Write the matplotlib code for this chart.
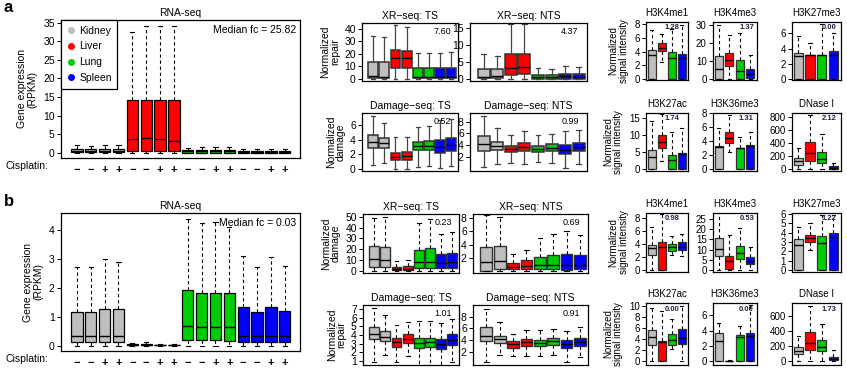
import matplotlib
matplotlib.use('Agg')
import matplotlib.pyplot as plt
from matplotlib.lines import Line2D
from matplotlib.transforms import blended_transform_factory

plt.rcParams['font.family'] = ['Liberation Sans', 'DejaVu Sans']

# ---------------- data ----------------
tissues = ['Kidney', 'Liver', 'Lung', 'Spleen']
tissue_colors = ['#BEBEBE', '#FF0000', '#00CD00', '#0000FF']
cisplatin = ['\u2212', '\u2212', '+', '+'] * 4

# box stats: [whisker low, q1, median, q3, whisker high]
# RNA-seq (16 boxes: kidney x4, liver x4, lung x4, spleen x4)
a_rna = [[0, 0.1, 0.4, 0.9, 2.0], [0, 0.1, 0.4, 0.9, 1.8], [0, 0.1, 0.4, 0.95, 2.1], [0, 0.1, 0.4, 0.95, 2.1],
         [0, 0.5, 3.8, 14.3, 32.5], [0, 0.5, 4.1, 14.3, 34.1], [0, 0.4, 3.6, 14.1, 34.1], [0, 0.4, 3.2, 14.3, 34.2],
         [0, 0.05, 0.35, 0.8, 1.4], [0, 0.05, 0.4, 0.85, 1.6], [0, 0.05, 0.4, 0.85, 1.5], [0, 0.05, 0.4, 0.85, 1.5],
         [0, 0.05, 0.25, 0.6, 1.1], [0, 0.05, 0.25, 0.55, 0.9], [0, 0.05, 0.25, 0.55, 0.9], [0, 0.05, 0.25, 0.55, 0.9]]
a_fc = 'Median fc = 25.82'

b_rna = [[0, 0.12, 0.35, 1.17, 2.72], [0, 0.12, 0.35, 1.17, 2.70], [0, 0.12, 0.35, 1.27, 3.0], [0, 0.12, 0.35, 1.25, 2.9],
         [0, 0.01, 0.03, 0.05, 0.08], [0, 0.01, 0.04, 0.07, 0.12], [0, 0.01, 0.02, 0.04, 0.05], [0, 0.01, 0.02, 0.04, 0.05],
         [0, 0.2, 0.67, 1.93, 4.38], [0, 0.2, 0.63, 1.83, 4.22], [0, 0.2, 0.65, 1.83, 4.25], [0, 0.18, 0.65, 1.81, 4.1],
         [0, 0.12, 0.35, 1.33, 3.1], [0, 0.12, 0.35, 1.17, 2.7], [0, 0.12, 0.35, 1.32, 3.05], [0, 0.12, 0.35, 1.18, 2.75]]
b_fc = 'Median fc = 0.03'

# XR-seq / Damage-seq (8 boxes: kidney x2, liver x2, lung x2, spleen x2)
a_xr_ts = [[0, 0.5, 2.5, 13.5, 34], [0, 0.5, 1.5, 13.5, 33], [0, 9, 16.5, 23, 43], [0, 9, 16.5, 22.5, 41.5],
           [0, 0.8, 1.2, 8.5, 20.5], [0, 0.8, 1.2, 8.5, 21], [0, 0.8, 1.2, 8.5, 21], [0, 0.8, 1.2, 8.5, 21.5]]
a_xr_nts = [[0, 0.2, 0.7, 3.0, 7.3], [0, 0.3, 1.0, 3.0, 6.8], [0, 1.2, 3.2, 7.5, 16.2], [0, 1.5, 3.4, 7.5, 16.2],
            [0, 0.1, 0.6, 1.2, 3.2], [0, 0.1, 0.6, 1.2, 3.0], [0, 0.1, 0.8, 1.6, 3.8], [0, 0.1, 0.7, 1.4, 3.4]]
a_dm_ts = [[0.5, 2.9, 3.7, 4.6, 7.2], [0.9, 2.9, 3.5, 4.2, 6.2], [0, 1.2, 1.7, 2.2, 4.4], [0, 1.3, 1.8, 2.3, 4.4],
           [0.3, 2.6, 3.1, 3.7, 5.7], [0.4, 2.6, 3.1, 3.8, 5.8], [0.2, 2.2, 3.0, 4.0, 6.6], [0.4, 2.5, 3.3, 4.2, 6.8]]
a_dm_nts = [[0.3, 3.0, 4.2, 5.6, 8.9], [0.8, 3.1, 3.9, 4.6, 7.0], [1.0, 2.8, 3.4, 3.9, 5.8], [0.8, 2.9, 3.6, 4.4, 6.4],
            [1.1, 2.8, 3.4, 3.9, 5.8], [1.0, 2.9, 3.5, 4.2, 5.9], [0, 2.4, 3.2, 4.0, 6.4], [0.7, 3.0, 3.7, 4.4, 6.6]]
b_xr_ts = [[0, 3.5, 11, 22.5, 49], [0, 3.5, 10, 22, 49.5], [0, 0.5, 1.5, 3.5, 9], [0, 0.5, 1.5, 4.5, 10],
           [0, 2.5, 8, 19.5, 44.5], [0, 2.5, 8, 21, 48], [0, 2.5, 7.5, 15.5, 34], [0, 3, 8, 16.5, 36]]
b_xr_nts = [[0, 0.1, 1.4, 3.7, 8.4], [0, 0.3, 1.6, 3.8, 8.2], [0, 0.3, 0.7, 1.3, 2.6], [0, 0.3, 0.8, 1.7, 3.2],
            [0, 0.3, 0.9, 2.2, 5.0], [0, 0.3, 1.0, 2.5, 5.6], [0, 0.2, 0.9, 2.6, 6.0], [0, 0.3, 0.9, 2.5, 5.4]]
b_dm_ts = [[0.8, 3.5, 4.1, 4.9, 7.2], [1.7, 3.3, 3.8, 4.5, 6.3], [0.9, 2.6, 3.2, 3.6, 5.2], [1.5, 3.1, 3.5, 4.1, 5.5],
           [0.5, 2.5, 3.1, 3.6, 5.6], [0.5, 2.6, 3.2, 3.7, 5.6], [0.4, 2.4, 3.0, 3.5, 5.4], [0.8, 2.8, 3.4, 4.1, 5.9]]
b_dm_nts = [[0.3, 3.8, 4.7, 6.2, 9.3], [1.5, 3.5, 4.1, 4.7, 7.0], [1.2, 2.7, 3.3, 3.8, 5.1], [1.2, 3.0, 3.6, 4.2, 5.7],
            [1.3, 3.0, 3.5, 4.0, 5.7], [1.4, 3.2, 3.8, 4.3, 5.8], [0.3, 2.6, 3.3, 4.0, 5.6], [1.0, 3.0, 3.6, 4.3, 6.2]]
a_mid_values = ['7.60', '4.37', '0.52', '0.99']
b_mid_values = ['0.23', '0.69', '1.01', '0.91']

# Histone marks / DNase I (4 boxes: kidney, liver, lung, spleen)
a_h3k4me1 = [[0, 0, 3.5, 4.2, 7.1], [2.5, 4.1, 4.5, 5.2, 6.5], [0, 0, 3.1, 3.9, 7.3], [0, 0, 3.0, 3.6, 7.9]]
a_h3k4me3 = [[0, 0, 5.5, 12.8, 30], [0, 7.5, 10.5, 14.5, 24.5], [0, 0, 4.5, 10.5, 25.5], [0, 0.5, 3, 5.5, 13.5]]
a_h3k27me3 = [[0, 0, 3.0, 3.4, 5.6], [0, 0, 3.1, 3.2, 4.8], [0, 0, 3.2, 3.2, 7.3], [0, 0, 3.1, 3.7, 6.0]]
a_h3k27ac = [[0, 0, 3.5, 5.8, 14.3], [2.3, 6.3, 8.0, 10.0, 16.2], [0, 0, 2.8, 4.3, 10.8], [0, 0, 4.6, 4.8, 12.0]]
a_h3k36me3 = [[0, 0, 3.2, 3.3, 5.9], [2.5, 3.7, 4.5, 5.4, 7.7], [0, 0, 3.0, 3.1, 4.6], [0, 0, 3.3, 3.4, 5.4]]
a_dnase = [[0, 70, 120, 170, 330], [0, 130, 250, 420, 830], [0, 90, 160, 270, 540], [0, 0, 20, 50, 100]]
a_hist_values = ['1.28', '1.37', '0.00', '1.74', '1.31', '2.12']

b_h3k4me1 = [[0, 2.3, 3.4, 3.8, 6.6], [0, 0, 3.6, 4.3, 8.7], [2.3, 2.9, 3.5, 4.0, 5.3], [2.1, 3.1, 3.6, 4.3, 5.6]]
b_h3k4me3 = [[0, 7, 10.5, 15.5, 28], [0, 0.5, 4.5, 7, 17], [0, 5.5, 8.5, 12, 20.5], [0, 3, 4.5, 6.5, 11.5]]
b_h3k27me3 = [[0, 0, 2.7, 3.3, 4.6], [2.1, 3.0, 3.4, 3.8, 5.0], [0, 0, 2.9, 3.6, 5.9], [0, 0, 3.5, 4.0, 5.9]]
b_h3k27ac = [[0, 3.0, 4.4, 5.6, 9.6], [0, 0, 3.5, 3.6, 9.0], [2.2, 3.0, 3.8, 4.9, 7.7], [0, 3.1, 4.2, 5.8, 10.0]]
b_h3k36me3 = [[0, 0, 2.7, 3.7, 5.0], [0, 0, 0, 0.05, 0.1], [0, 0, 3.1, 3.4, 4.6], [0, 0, 3.3, 3.7, 7.3]]
b_dnase = [[0, 100, 140, 190, 340], [0, 150, 240, 380, 730], [0, 130, 190, 280, 490], [0, 10, 30, 60, 150]]
b_hist_values = ['0.98', '0.53', '1.22', '0.00', '0.00', '1.73']

hist_titles = ['H3K4me1', 'H3K4me3', 'H3K27me3', 'H3K27ac', 'H3K36me3', 'DNase I']
mid_titles = ['XR\u2212seq: TS', 'XR\u2212seq: NTS', 'Damage\u2212seq: TS', 'Damage\u2212seq: NTS']

# ---------------- figure ----------------
W, H = 847, 369
fig = plt.figure(figsize=(W / 100, H / 100), dpi=100)


def add_ax(l, t, r, b):
    return fig.add_axes([l / W, 1 - b / H, (r - l) / W, (b - t) / H])


def style_ax(ax, yticks, ylim, xlim, labelsize=7.5):
    ax.set_ylim(*ylim)
    ax.set_xlim(*xlim)
    ax.set_yticks(yticks)
    ax.tick_params(axis='y', direction='out', length=3, width=0.7, labelsize=labelsize, pad=1.5)
    for s in ax.spines.values():
        s.set_linewidth(0.9)
        s.set_color('black')
    ax.set_facecolor('white')


def draw_boxes(ax, stats, colors, width, capw, edge, wcol, wls, wlw=0.8, elw=0.9):
    st = [dict(whislo=s[0], q1=s[1], med=s[2], q3=s[3], whishi=s[4], fliers=[]) for s in stats]
    pos = list(range(1, len(stats) + 1))
    bp = ax.bxp(st, positions=pos, widths=width, capwidths=capw, patch_artist=True,
                showfliers=False, manage_ticks=False,
                boxprops=dict(edgecolor=edge, linewidth=elw),
                whiskerprops=dict(color=wcol, linestyle=wls, linewidth=wlw),
                capprops=dict(color=wcol, linewidth=wlw),
                medianprops=dict(color='black', linewidth=1.0))
    for p, c in zip(bp['boxes'], colors):
        p.set_facecolor(c)
    return bp


dash = (0, (3, 2.5))

# ---------- RNA-seq panels ----------
rna_colors = [c for c in tissue_colors for _ in range(4)]
for (t, b), data, fc, yt, yl, lab in [((20, 158), a_rna, a_fc, range(0, 36, 5), (-1.4, 35.7), 'a'),
                                      ((213, 351), b_rna, b_fc, range(0, 5), (-0.18, 4.57), 'b')]:
    ax = add_ax(61, t, 300, b)
    draw_boxes(ax, data, rna_colors, 0.82, 0.3, 'black', 'black', dash)
    style_ax(ax, list(yt), yl, (-0.15, 17.1))
    ax.set_xticks(range(1, 17), cisplatin)
    ax.tick_params(axis='x', length=0, pad=5, labelsize=8)
    for tl in ax.get_xticklabels():
        tl.set_fontweight('bold')
    ax.set_title('RNA-seq', fontsize=7.5, pad=3)
    ax.set_ylabel('Gene expression\n(RPKM)', fontsize=7.5, labelpad=4, linespacing=1.1)
    ax.text(0.985, 0.93, fc, transform=ax.transAxes, ha='right', va='center', fontsize=7.5)
    fig.text(5 / W, 1 - (b + 8) / H, 'Cisplatin:', fontsize=7.5, va='center', ha='left')
    fig.text(4 / W, 1 - (t - 12) / H, lab, fontsize=12, fontweight='bold', va='center', ha='left')
    if lab == 'a':
        handles = [Line2D([], [], marker='o', linestyle='none', markersize=4, color=c) for c in tissue_colors]
        leg = ax.legend(handles, tissues, loc='upper left', bbox_to_anchor=(0, 1), borderaxespad=0,
                        fontsize=7.5, frameon=True, fancybox=False, framealpha=1, edgecolor='black',
                        handlelength=0.8, handletextpad=0.4, labelspacing=0.55, borderpad=0.55)
        leg.get_frame().set_linewidth(0.9)

# ---------- XR-seq / Damage-seq panels ----------
mid_colors = [c for c in tissue_colors for _ in range(2)]
mid_specs = [
    # (box px), data, yticks, ylim, ylabel, value, panel row
    ((362, 23, 458, 81), a_xr_ts, [0, 10, 20, 30, 40], (-1.7, 44.5), 'Normalized\nrepair', a_mid_values[0], 'a'),
    ((470, 23, 587, 81), a_xr_nts, [0, 5, 10, 15], (-0.6, 16.5), None, a_mid_values[1], 'a'),
    ((362, 113, 458, 171), a_dm_ts, [0, 2, 4, 6], (-0.25, 7.6), 'Normalized\ndamage', a_mid_values[2], 'a'),
    ((470, 113, 587, 171), a_dm_nts, [2, 4, 6, 8], (-0.45, 9.5), None, a_mid_values[3], 'a'),
    ((363, 214, 459, 273), b_xr_ts, [0, 10, 20, 30, 40, 50], (-2, 52.5), 'Normalized\ndamage', b_mid_values[0], 'b'),
    ((473, 214, 588, 273), b_xr_nts, [2, 4, 6, 8], (-0.25, 8.6), None, b_mid_values[1], 'b'),
    ((363, 305, 459, 365), b_dm_ts, [1, 2, 3, 4, 5, 6, 7], (0.5, 7.5), 'Normalized\nrepair', b_mid_values[2], 'b'),
    ((473, 305, 588, 365), b_dm_nts, [2, 4, 6, 8], (-0.3, 10.0), None, b_mid_values[3], 'b'),
]
for i, (bx, data, yt, yl, ylab, val, row) in enumerate(mid_specs):
    ax = add_ax(*bx)
    if row == 'a':
        draw_boxes(ax, data, mid_colors, 0.88, 0.35, '#333333', '#444444', '-', wlw=0.9, elw=1.1)
    else:
        draw_boxes(ax, data, mid_colors, 0.88, 0.35, '#333333', 'black', dash, wlw=0.8, elw=1.0)
    style_ax(ax, yt, yl, (0.0, 8.6))
    ax.set_xticks([])
    ax.set_title(mid_titles[i % 4], fontsize=7.5, pad=3)
    if ylab:
        ax.set_ylabel(ylab, fontsize=7.5, labelpad=3, linespacing=1.0)
    ax.text(0.93, 0.85, val, transform=ax.transAxes, ha='right', va='center', fontsize=6.5)

# ---------- histone / DNase panels ----------
hist_cols = [(646, 688), (713, 757), (792, 841)]
hist_rows = {'a': [(22, 80), (113, 171)], 'b': [(213, 272), (303, 365)]}
hist_data = {'a': [a_h3k4me1, a_h3k4me3, a_h3k27me3, a_h3k27ac, a_h3k36me3, a_dnase],
             'b': [b_h3k4me1, b_h3k4me3, b_h3k27me3, b_h3k27ac, b_h3k36me3, b_dnase]}
hist_vals = {'a': a_hist_values, 'b': b_hist_values}
hist_yticks = {'a': [[0, 2, 4, 6, 8], [0, 10, 20, 30], [0, 2, 4, 6], [0, 5, 10, 15], [0, 2, 4, 6, 8],
                     [0, 200, 400, 600, 800]],
               'b': [[0, 2, 4, 6, 8], [0, 5, 10, 15, 20, 25], [0, 1, 2, 3, 4, 5, 6], [0, 2, 4, 6, 8, 10],
                     [0, 2, 4, 6], [0, 200, 400, 600]]}
hist_ylim = {'a': [(-0.15, 8.3), (-0.5, 31.7), (-0.13, 7.5), (-0.5, 16.5), (-0.25, 8.05), (-25, 855)],
             'b': [(-0.3, 8.8), (-1, 28), (-0.2, 6.1), (-0.7, 10.5), (-0.5, 7.6), (-50, 770)]}
hist_valx = [0.62, 0.78, 0.75, 0.62, 0.75, 0.75]
for row in ['a', 'b']:
    for k in range(6):
        l, r = hist_cols[k % 3]
        t, b = hist_rows[row][k // 3]
        ax = add_ax(l, t, r, b)
        draw_boxes(ax, hist_data[row][k], tissue_colors, 0.8, 0.3, '#333333', 'black', dash, wlw=0.8, elw=0.9)
        style_ax(ax, hist_yticks[row][k], hist_ylim[row][k], (0.45, 4.65), labelsize=7)
        ax.set_xticks([])
        ax.set_title(hist_titles[k], fontsize=7, pad=4)
        if k % 3 == 0:
            ax.set_ylabel('Normalized\nsignal intensity', fontsize=7, labelpad=4, linespacing=1.0)
        ax.text(hist_valx[k], 0.9, hist_vals[row][k], transform=ax.transAxes, ha='center', va='center',
                fontsize=5.5, fontweight='bold', color='#222244')

fig.savefig('out.png', dpi=100)
